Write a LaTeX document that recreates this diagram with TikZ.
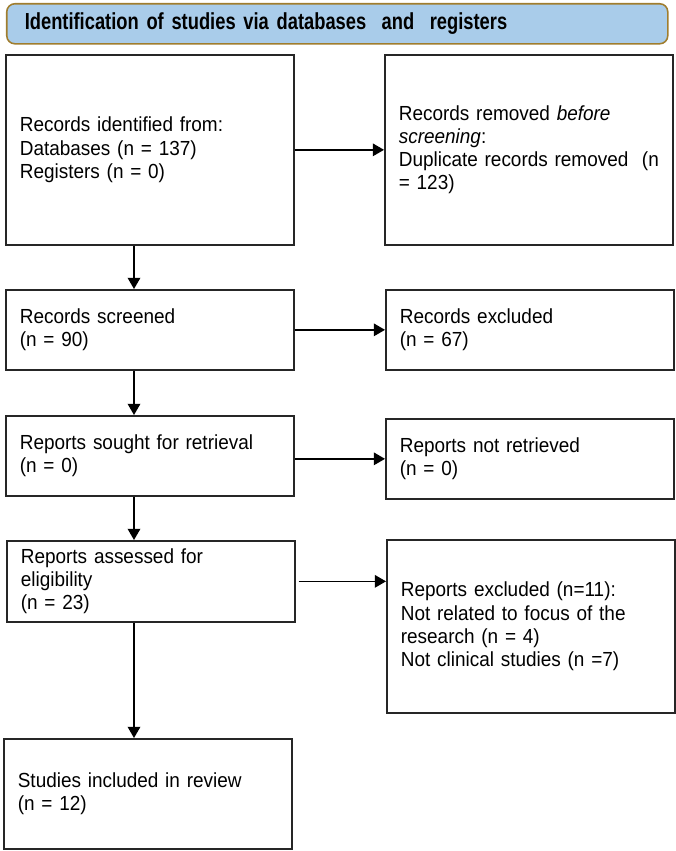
\documentclass[tikz,border=0pt]{standalone}
\usepackage{fontspec}
\setmainfont[FakeStretch=0.93]{Liberation Sans}
\newfontfamily\headfont[FakeStretch=0.79]{Liberation Sans}
\usetikzlibrary{arrows.meta,positioning}
\definecolor{headblue}{HTML}{A9CCEA}
\definecolor{headrim}{HTML}{A07D2E}

\begin{document}
\begin{tikzpicture}[
		box/.style={draw=black!85,line width=1.2pt,anchor=north west,inner xsep=0.35cm,
			text width=6.5cm,align=left,font=\fontsize{14.5}{16.5}\selectfont},
		arr/.style={-{Triangle[length=8pt,width=9pt]},line width=1pt}]
		\useasboundingbox (0,0) rectangle (16.875,-21.275);
		% banner
		\node[draw=headrim,line width=1.1pt,fill=headblue,rounded corners=0.2cm,anchor=north west,
			minimum height=1cm,inner xsep=0.45cm,text width=15.625cm,align=left,
			font=\headfont\bfseries\fontsize{16.5}{18}\selectfont] (banner) at (0.15,-0.075)
			{Identification of studies via databases\ \ and\ \ registers};
		% left column
		\node[box,minimum height=4.75cm] (ident) at (0.125,-1.35)
			{Records identified from:\\Databases (n = 137)\\Registers (n = 0)};
		\node[box,minimum height=2cm] (screen) at (0.125,-7.225)
			{Records screened\\(n = 90)};
		\node[box,minimum height=2cm] (sought) at (0.125,-10.375)
			{Reports sought for retrieval\\(n = 0)};
		\node[box,minimum height=2.025cm] (assess) at (0.15,-13.5)
			{Reports assessed for\\eligibility\\(n = 23)};
		\node[box,minimum height=2.75cm] (incl) at (0.075,-18.45)
			{Studies included in review\\(n = 12)};
		% right column
		\node[box,minimum height=4.75cm] (dupl) at (9.6,-1.35)
			{Records removed \textit{before}\\\textit{screening}:\\\mbox{Duplicate records removed\ \ (n}\\= 123)};
		\node[box,minimum height=2cm] (rexcl) at (9.625,-7.225)
			{Records excluded\\(n = 67)};
		\node[box,minimum height=2cm] (notret) at (9.625,-10.45)
			{Reports not retrieved\\(n = 0)};
		\node[box,minimum height=4.325cm] (excl) at (9.65,-13.475)
			{Reports excluded (n=11):\\Not related to focus of the\\research (n = 4)\\Not clinical studies (n =7)};
		\coordinate (spine) at (3.35,0);
		% arrows
		\draw[arr] (ident.east) -- (dupl.west);
		\draw[arr] (screen.east) -- (rexcl.west);
		\draw[arr] (sought.east |- notret.west) -- (notret.west);
		\draw[arr] ([xshift=2pt]assess.east) -- (assess.east -| excl.west);
		\draw[arr] (ident.south -| spine) -- (screen.north -| spine);
		\draw[arr] (screen.south -| spine) -- (sought.north -| spine);
		\draw[arr] (sought.south -| spine) -- (assess.north -| spine);
		\draw[arr] (assess.south -| spine) -- (incl.north -| spine);
	\end{tikzpicture}
\end{document}
